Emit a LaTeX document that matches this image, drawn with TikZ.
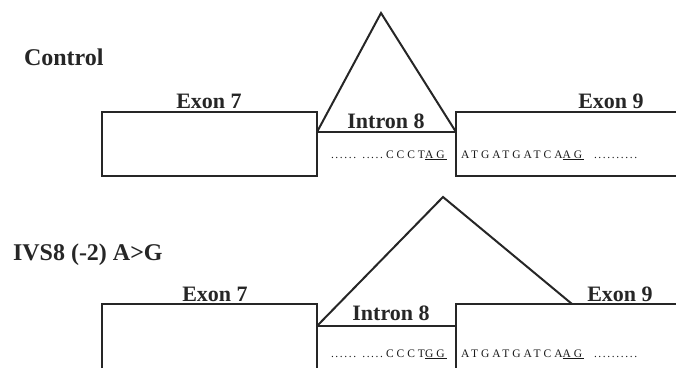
\documentclass[tikz,border=0pt]{standalone}
\usepackage{fontspec}
\setmainfont{Liberation Serif}
\newfontfamily\seqfont[LetterSpace=26]{Liberation Serif}
\newfontfamily\dotfont[LetterSpace=14]{Liberation Serif}
\begin{document}
\begin{tikzpicture}[x=1pt,y=-1pt,
  line width=2pt, draw=black!85, line join=miter,
  title/.style={inner sep=0pt, anchor=base west, text=black!85,
    font=\bfseries\fontsize{24}{24}\selectfont},
  lbl/.style={inner sep=0pt, anchor=base, text=black!85,
    font=\bfseries\fontsize{22}{22}\selectfont},
  seq/.style={inner sep=0pt, anchor=base west, text=black!90,
    font=\seqfont\fontsize{11.5}{12}\selectfont},
  dotrun/.style={inner sep=0pt, anchor=base west, text=black!90,
    font=\dotfont\fontsize{11.5}{12}\selectfont}]
\useasboundingbox (0,0) rectangle (676,368);

% ---------- wild type ----------
\coordinate (a7tl) at (102,112);
\coordinate (a7br) at (317,176);
\coordinate (aI1) at (317,132);
\coordinate (aI2) at (456,132);
\coordinate (aTop) at (381,13);
\coordinate (a9tl) at (456,112);
\coordinate (a9bl) at (456,176);
\coordinate (a9tr) at (676,112);
\coordinate (a9br) at (676,176);

\draw (a7tl) rectangle (a7br);
\draw (aI1) -- (aI2);
\draw (a9tr) -- (a9tl) -- (a9bl) -- (a9br);
\draw (aI1) -- (aTop) -- (aI2);

\node[title] (ctl) at (23,65) {Control};
\node[lbl] (ae7) at (209,108) {Exon 7};
\node[lbl] (ai8) at (386,128) {Intron 8};
\node[lbl] (ae9) at (611,108) {Exon 9};

\node[dotrun] (ad1) at (330,158) {...... .....};
\node[seq] (as1) at (385,158) {CCCT\underline{AG\,}};
\node[seq] (as2) at (460,158) {ATGATGATCA\underline{AG\,}};
\node[dotrun] (ad2) at (593,158) {..........};

% ---------- IVS8 (-2) A>G ----------
\coordinate (b7bl) at (102,368);
\coordinate (b7tl) at (102,304);
\coordinate (b7tr) at (317,304);
\coordinate (b7br) at (317,368);
\coordinate (bI1) at (317,326);
\coordinate (bI2) at (456,326);
\coordinate (bTop) at (443,197);
\coordinate (bEnd) at (572,304);
\coordinate (b9tl) at (456,304);
\coordinate (b9bl) at (456,368);
\coordinate (b9tr) at (676,304);

\draw (b7bl) -- (b7tl) -- (b7tr) -- (b7br);
\draw (bI1) -- (bI2);
\draw (b9tr) -- (b9tl) -- (b9bl);
\draw (bI1) -- (bTop) -- (bEnd);

\node[title] (mut) at (12,260) {IVS8 (-2) A>G};
\node[lbl] (be7) at (215,301) {Exon 7};
\node[lbl] (bi8) at (391,320) {Intron 8};
\node[lbl] (be9) at (620,301) {Exon 9};

\node[dotrun] (bd1) at (330,357) {...... .....};
\node[seq] (bs1) at (385,357) {CCCT\underline{GG\,}};
\node[seq] (bs2) at (460,357) {ATGATGATCA\underline{AG\,}};
\node[dotrun] (bd2) at (593,357) {..........};
\end{tikzpicture}
\end{document}
